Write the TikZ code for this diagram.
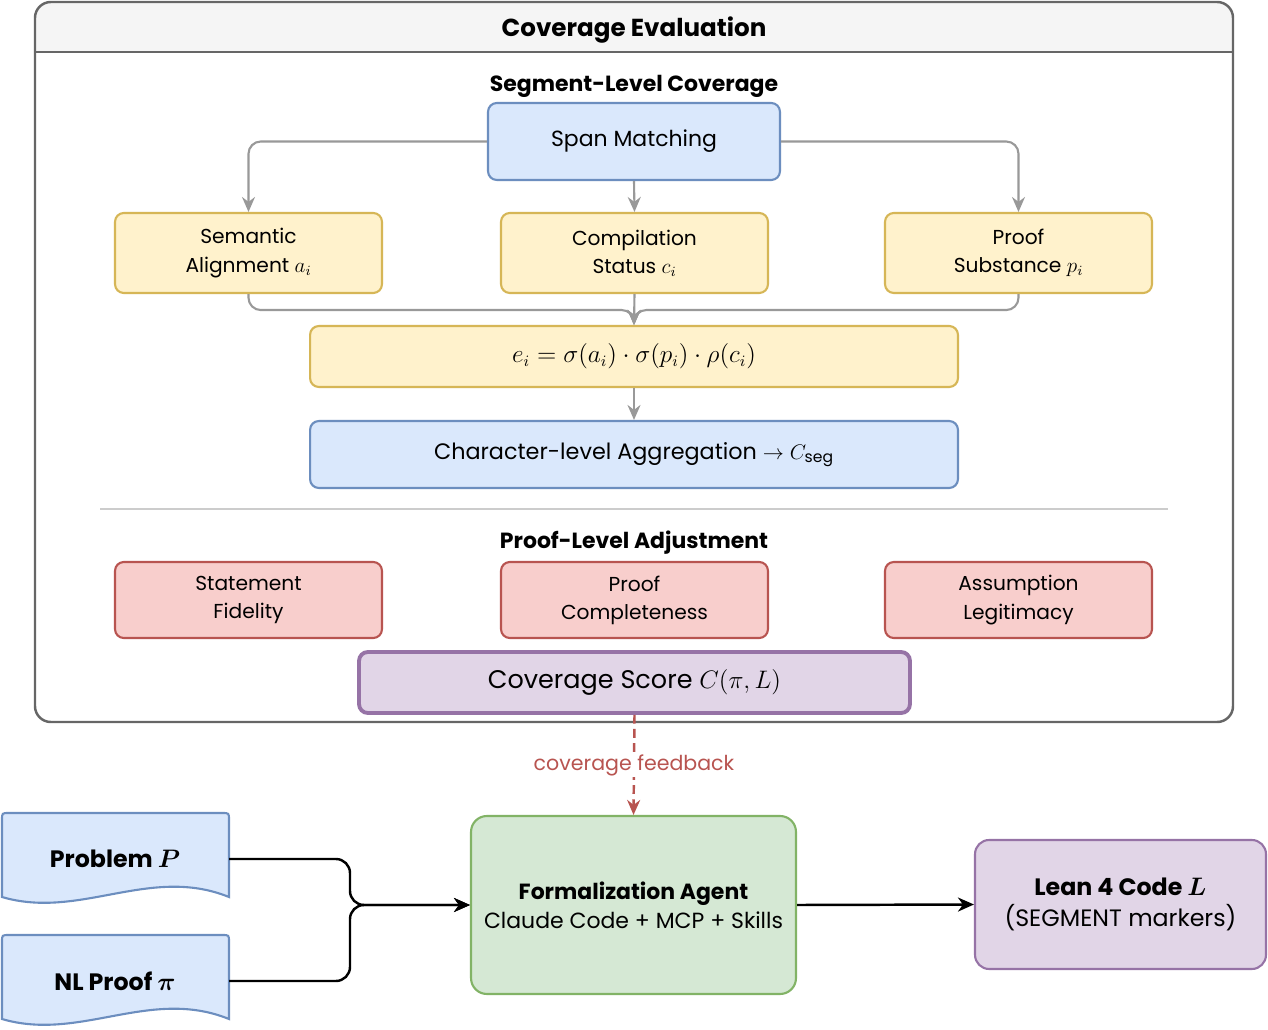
\documentclass[tikz,border=0pt]{standalone}
\usepackage{amsmath}
\usepackage{fontspec}
\setmainfont{Poppins}
\usepackage{tikz}
\usetikzlibrary{arrows.meta,calc,positioning}
\definecolor{bluefill}{HTML}{DAE8FC}
\definecolor{bluedraw}{HTML}{6C8EBF}
\definecolor{yellowfill}{HTML}{FFF2CC}
\definecolor{yellowdraw}{HTML}{D6B656}
\definecolor{redfill}{HTML}{F8CECC}
\definecolor{reddraw}{HTML}{B85450}
\definecolor{greenfill}{HTML}{D5E8D4}
\definecolor{greendraw}{HTML}{82B366}
\definecolor{purplefill}{HTML}{E1D5E7}
\definecolor{purpledraw}{HTML}{9673A6}
\definecolor{framegray}{HTML}{666666}
\definecolor{headfill}{HTML}{F5F5F5}
\definecolor{arrowgray}{HTML}{999999}
\definecolor{sepgray}{HTML}{CCCCCC}
\tikzset{
  box/.style={rectangle, rounded corners=5pt, line width=1.2pt, align=center, inner sep=2pt},
  bluebox/.style={box, fill=bluefill, draw=bluedraw},
  yellowbox/.style={box, fill=yellowfill, draw=yellowdraw},
  redbox/.style={box, fill=redfill, draw=reddraw},
  greenbox/.style={box, fill=greenfill, draw=greendraw, rounded corners=9pt},
  purplebox/.style={box, fill=purplefill, draw=purpledraw, rounded corners=8pt},
  heading/.style={font=\bfseries\fontsize{12.5}{14}\selectfont},
  flow/.style={draw=arrowgray, line width=1.2pt, rounded corners=7pt,
    -{Stealth[length=0.3cm,width=0.26cm,inset=0.1cm]}},
  link/.style={draw=black, line width=1.4pt, rounded corners=8pt,
    -{Stealth[length=0.32cm,width=0.28cm,inset=0.1cm]}},
  doc/.style={fill=bluefill, draw=bluedraw, line width=1.2pt},
  doclabel/.style={font=\bfseries\fontsize{13.5}{16}\selectfont},
}

\begin{document}
\begin{tikzpicture}[x=0.02cm, y=-0.02cm, font=\fontsize{11.5}{16}\selectfont]
\useasboundingbox (0,0) rectangle (1268,1030);

% evaluation frame
\fill[white, rounded corners=9pt] (35,2) rectangle (1233,722);
\fill[headfill, rounded corners=9pt] (35,2) rectangle (1233,60);
\fill[white] (36,52) rectangle (1232,70);
\draw[framegray, line width=1.4pt] (35,52) -- (1233,52);
\draw[framegray, line width=1.4pt, rounded corners=9pt] (35,2) rectangle (1233,722);
\node[font=\bfseries\fontsize{14}{16}\selectfont] (title) at (634,30) {Coverage Evaluation};

% segment level
\node[heading] (seglbl) at (634,86) {Segment-Level Coverage};
\node[bluebox, minimum width=5.84cm, minimum height=1.54cm, font=\fontsize{12.5}{15}\selectfont] (span) at (634,141.5) {Span Matching};
\foreach \n/\x/\t in {sem/248.5/{Semantic\\Alignment $a_i$}, comp/634.5/{Compilation\\Status $c_i$}, subst/1018.5/{Proof\\Substance $p_i$}}
  \node[yellowbox, minimum width=5.34cm, minimum height=1.6cm] (\n) at (\x,253) {\t};
\node[yellowbox, minimum width=12.96cm, minimum height=1.22cm, font=\fontsize{13.5}{16}\selectfont] (formula) at (634,356.5)
  {$e_i = \sigma(a_i)\cdot\sigma(p_i)\cdot\rho(c_i)$};
\node[bluebox, minimum width=12.96cm, minimum height=1.34cm, font=\fontsize{12.7}{15}\selectfont] (charagg) at (634,454.5)
  {Character-level Aggregation $\rightarrow C_{\mathrm{seg}}$};

\draw[flow] (span.west) -| (sem.north);
\draw[flow] (span.east) -| (subst.north);
\draw[flow] (span.south) -- (comp.north);
\draw[flow] (sem.south) -- ++(0,16) -| (formula.north);
\draw[flow] (subst.south) -- ++(0,16) -| (formula.north);
\draw[flow] (comp.south) -- (formula.north);
\draw[flow] (formula.south) -- (charagg.north);

\draw[sepgray, line width=1.4pt] (100,509) -- (1168,509);

% proof level
\node[heading] (adjlbl) at (634,543) {Proof-Level Adjustment};
\foreach \n/\x/\t in {fid/248.5/{Statement\\Fidelity}, compl/634.5/{Proof\\Completeness}, legit/1018.5/{Assumption\\Legitimacy}}
  \node[redbox, minimum width=5.34cm, minimum height=1.52cm] (\n) at (\x,600) {\t};
\node[purplebox, line width=2.2pt, rounded corners=5pt, minimum width=11.02cm, minimum height=1.22cm,
  font=\fontsize{14.5}{16}\selectfont] (score) at (634.5,682.5) {Coverage Score $C(\pi, L)$};

% inputs
\path[doc] (2,897) -- (2,820) .. controls (2,813) .. (9,813) -- (222,813) .. controls (229,813) .. (229,820)
  -- (229,897) .. controls (150,865) and (80,920) .. (2,897) -- cycle;
\path[doc] (2,1019) -- (2,942) .. controls (2,935) .. (9,935) -- (222,935) .. controls (229,935) .. (229,942)
  -- (229,1019) .. controls (150,987) and (80,1042) .. (2,1019) -- cycle;
\node[doclabel] (probtxt) at (115,859) {Problem $\boldsymbol{P}$};
\node[doclabel] (nltxt) at (115,981) {NL Proof $\boldsymbol{\pi}$};
\coordinate (probout) at (229,859);
\coordinate (nlout) at (229,981);
\coordinate (join) at (350,905);

\node[greenbox, minimum width=6.5cm, minimum height=3.56cm, font=\fontsize{12.5}{16.5}\selectfont] (agent) at (633.5,905)
  {\textbf{Formalization Agent}\\Claude Code + MCP + Skills};
\node[purplebox, minimum width=5.82cm, minimum height=2.58cm, font=\fontsize{13.5}{17.5}\selectfont] (lean) at (1120.5,904.5)
  {\textbf{Lean 4 Code $\boldsymbol{L}$}\\(SEGMENT markers)};

\draw[link] (probout) -| (join) -- (agent.west);
\draw[link] (nlout) -| (join) -- (agent.west);
\draw[link] (agent.east) -- (lean.west);
\draw[draw=reddraw, line width=1.4pt, dash pattern=on 5pt off 3pt,
  -{Stealth[length=0.3cm,width=0.26cm,inset=0.1cm]}] (score.south) --
  node[fill=white, text=reddraw, inner sep=1pt, font=\fontsize{11.7}{14}\selectfont] (fblbl) {coverage feedback} (agent.north);
\end{tikzpicture}
\end{document}
